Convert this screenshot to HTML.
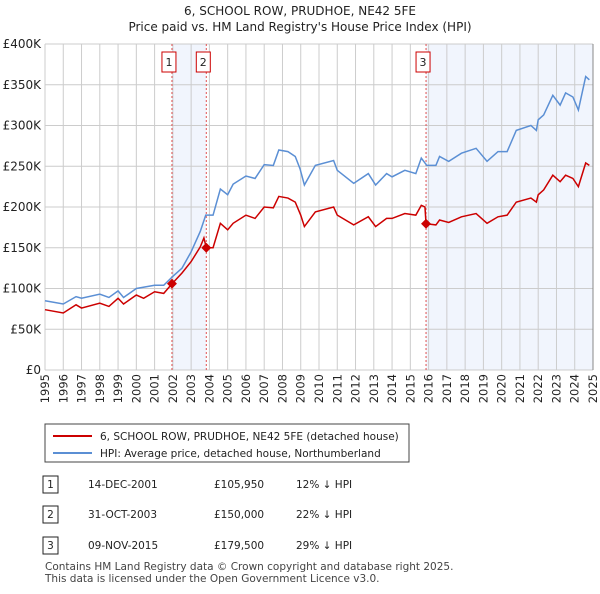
<!DOCTYPE html>
<html><head><meta charset="utf-8"><style>
body{margin:0;background:#fff;font-family:"DejaVu Sans",sans-serif;}
</style></head><body>
<svg id="chart" width="600" height="590" xmlns="http://www.w3.org/2000/svg" font-family="DejaVu Sans, sans-serif">
<text x="300" y="15" text-anchor="middle" font-size="12" fill="#222">6, SCHOOL ROW, PRUDHOE, NE42 5FE</text>
<text x="300" y="31" text-anchor="middle" font-size="12" fill="#222">Price paid vs. HM Land Registry's House Price Index (HPI)</text>
<g id="plot"></g>
<g>
<rect x="45" y="424" width="364" height="38" fill="#fff" stroke="#444"/>
<line x1="53" y1="436" x2="92" y2="436" stroke="#cc0000" stroke-width="2"/>
<text x="100" y="440" font-size="10.5" fill="#222">6, SCHOOL ROW, PRUDHOE, NE42 5FE (detached house)</text>
<line x1="53" y1="453" x2="92" y2="453" stroke="#5b8fd4" stroke-width="2"/>
<text x="100" y="457" font-size="10.5" fill="#222">HPI: Average price, detached house, Northumberland</text>
</g>
<g font-size="10.5" fill="#222">
<rect x="43" y="476" width="15" height="17" fill="#fff" stroke="#222"/><text x="50.5" y="488" text-anchor="middle">1</text>
<text x="88" y="488">14-DEC-2001</text><text x="214" y="488">£105,950</text><text x="296" y="488">12% ↓ HPI</text>
<rect x="43" y="506" width="15" height="17" fill="#fff" stroke="#222"/><text x="50.5" y="518" text-anchor="middle">2</text>
<text x="88" y="518">31-OCT-2003</text><text x="214" y="518">£150,000</text><text x="296" y="518">22% ↓ HPI</text>
<rect x="43" y="537" width="15" height="17" fill="#fff" stroke="#222"/><text x="50.5" y="549" text-anchor="middle">3</text>
<text x="88" y="549">09-NOV-2015</text><text x="214" y="549">£179,500</text><text x="296" y="549">29% ↓ HPI</text>
</g>
<text x="45" y="570" font-size="10.5" fill="#444">Contains HM Land Registry data © Crown copyright and database right 2025.</text>
<text x="45" y="582" font-size="10.5" fill="#444">This data is licensed under the Open Government Licence v3.0.</text>
</svg>
<script>
const hpiYears=[1995,1996,1996.7,1997,1998,1998.5,1999,1999.3,2000,2001,2001.5,2002,2002.5,2003,2003.5,2003.8,2004.2,2004.6,2005,2005.3,2006,2006.5,2007,2007.5,2007.8,2008.3,2008.7,2008.96,2009.2,2009.8,2010.8,2011,2011.9,2012.7,2013.1,2013.7,2014,2014.7,2015.3,2015.6,2015.9,2016.4,2016.6,2017.1,2017.8,2018.6,2019.2,2019.8,2020.3,2020.8,2021.6,2021.9,2022,2022.3,2022.8,2023.2,2023.5,2023.9,2024.2,2024.6,2024.8];
const hpiValues=[85,81,90,88,93,89,97,89,100,104,104,115,125,145,170,190,190,222,215,228,238,235,252,251,270,268,262,247,227,251,257,245,229,241,227,241,237,245,241,260,251,251,262,256,266,272,256,268,268,294,300,294,307,313,337,325,340,335,319,360,356];
const priceYears=[1995,1996,1996.7,1997,1998,1998.5,1999,1999.3,2000,2000.4,2001,2001.5,2001.96,2002.5,2003,2003.5,2003.7,2003.83,2004.2,2004.6,2005,2005.3,2006,2006.5,2007,2007.5,2007.8,2008.3,2008.7,2009,2009.2,2009.8,2010.8,2011,2011.9,2012.7,2013.1,2013.7,2014,2014.7,2015.3,2015.6,2015.8,2015.86,2016.4,2016.6,2017.1,2017.8,2018.6,2019.2,2019.8,2020.3,2020.8,2021.6,2021.9,2022,2022.3,2022.8,2023.2,2023.5,2023.9,2024.2,2024.6,2024.8];
const priceValues=[74,70,80,76,82,78,88,81,92,88,96,94,105.95,119,133,151,162,150,150,180,172,180,190,186,200,199,213,211,206,190,176,194,200,190,178,188,176,186,186,192,190,202,200,179.5,178,184,181,188,192,180,188,190,206,211,206,215,221,239,231,239,235,225,254,251];
const saleYears=[2001.95,2003.83,2015.86];
const saleValues=[105.95,150,179.5];
const saleLabels=["1","2","3"];
const yTicks=[0,50,100,150,200,250,300,350,400];
const yTickLabels=["£0","£50K","£100K","£150K","£200K","£250K","£300K","£350K","£400K"];
const xTicks=[1995,1996,1997,1998,1999,2000,2001,2002,2003,2004,2005,2006,2007,2008,2009,2010,2011,2012,2013,2014,2015,2016,2017,2018,2019,2020,2021,2022,2023,2024,2025];

const X0=45,X1=593,Y0=370,Y1=44;
const xs=y=>X0+(y-1995)/30*(X1-X0);
const ys=v=>Y0-v/400*(Y0-Y1);
const NS="http://www.w3.org/2000/svg";
const plot=document.getElementById('plot');
function mk(tag,attrs){const e=document.createElementNS(NS,tag);for(const k in attrs)e.setAttribute(k,attrs[k]);plot.appendChild(e);return e;}
let s1=mk('rect',{x:xs(saleYears[0]),y:Y1,width:xs(saleYears[1])-xs(saleYears[0]),height:Y0-Y1,fill:'#eef3fc',opacity:0.8});


let s2=mk('rect',{x:xs(saleYears[2]),y:Y1,width:X1-xs(saleYears[2]),height:Y0-Y1,fill:'#eef3fc',opacity:0.8});


yTicks.forEach((t,i)=>{
 let l=mk('line',{x1:X0,x2:X1,y1:ys(t),y2:ys(t),stroke:'#ccc','stroke-width':1});
 
 
 let tx=mk('text',{x:X0-4,y:ys(t)+4,'text-anchor':'end','font-size':12,fill:'#222'});
 tx.textContent=yTickLabels[i];
 
 
});
xTicks.forEach(t=>{
 let l=mk('line',{x1:xs(t),x2:xs(t),y1:Y1,y2:Y0,stroke:'#ccc','stroke-width':1});
 
 
 let tx=mk('text',{x:0,y:0,'text-anchor':'end','font-size':11.5,fill:'#222',transform:`translate(${xs(t)+4},${Y0+4}) rotate(-90)`});
 tx.textContent=t;
 
 
});
saleYears.forEach((y,i)=>{
 let l=mk('line',{x1:xs(y),x2:xs(y),y1:Y1,y2:Y0,stroke:'#e05050','stroke-width':1,'stroke-dasharray':'2,2'});
 
 
 let b=mk('rect',{x:xs(y)-10,y:52,width:14,height:20,fill:'#fff',stroke:'#cc0000'});
 
 
 let tx=mk('text',{x:xs(y)-3,y:66,'text-anchor':'middle','font-size':11,fill:'#222'});
 tx.textContent=saleLabels[i];
 
 
});
let hp=mk('polyline',{points:hpiYears.map((y,i)=>xs(y)+','+ys(hpiValues[i])).join(' '),fill:'none',stroke:'#5b8fd4','stroke-width':1.5});


let pp=mk('polyline',{points:priceYears.map((y,i)=>xs(y)+','+ys(priceValues[i])).join(' '),fill:'none',stroke:'#cc0000','stroke-width':1.5});


saleYears.forEach((y,i)=>{
 const cx=xs(y),cy=ys(saleValues[i]);
 let d=mk('polygon',{points:`${cx},${cy-5} ${cx+5},${cy} ${cx},${cy+5} ${cx-5},${cy}`,fill:'#cc0000'});
 
 
});
let ax=mk('line',{x1:X1,x2:X1,y1:Y1,y2:Y0,stroke:'#888'});


</script>
</body></html>
